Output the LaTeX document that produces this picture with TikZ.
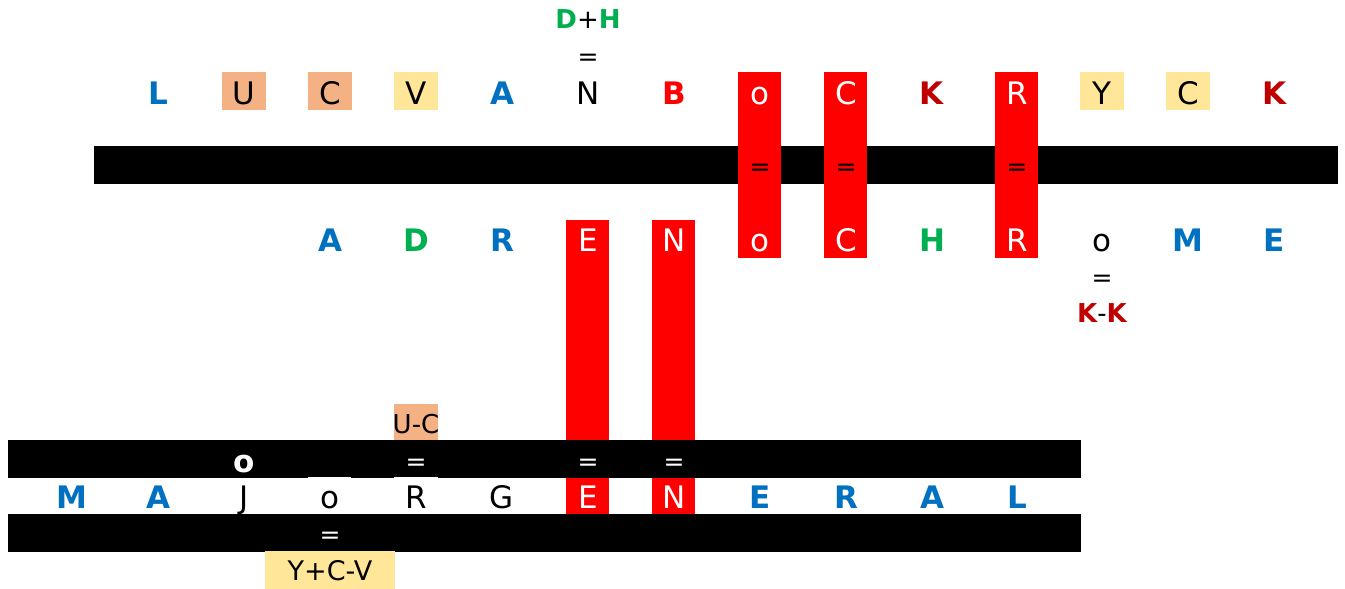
\documentclass[tikz,border=0pt]{standalone}
\usepackage{fontspec}
\setmainfont{DejaVu Sans}
\definecolor{cblue}{HTML}{0070C0}
\definecolor{cgreen}{HTML}{00B050}
\definecolor{cred}{HTML}{FF0000}
\definecolor{cdred}{HTML}{C00000}
\definecolor{corange}{HTML}{F4B183}
\definecolor{cyellow}{HTML}{FFE699}
\begin{document}
\begin{tikzpicture}[x=1pt,y=-1pt,
  ltr/.style={anchor=base,inner sep=0pt,font=\fontsize{31}{31}\selectfont},
  bld/.style={anchor=base,inner sep=0pt,font=\fontsize{31}{31}\selectfont\bfseries},
  bl/.style={bld,text=cblue},
  gr/.style={bld,text=cgreen},
  rd/.style={bld,text=cred},
  dr/.style={bld,text=cdred},
  wh/.style={ltr,text=white},
  bk/.style={ltr,text=black},
  sm/.style={anchor=base,inner sep=0pt,font=\fontsize{26}{26}\selectfont},
  eqb/.style={sm,font=\fontsize{25}{25}\selectfont,text=black},
  eqw/.style={sm,font=\fontsize{25}{25}\selectfont,text=white},
  barfill/.style={fill=black},
  redfill/.style={fill=cred},
  orfill/.style={fill=corange},
  yefill/.style={fill=cyellow}]
\useasboundingbox (0,0) rectangle (1345,589);
% top black bar
\fill[barfill] (94,146) rectangle (1338,184);
% top red columns
\fill[redfill] (738,72) rectangle (781,258);
\fill[redfill] (824,72) rectangle (867,258);
\fill[redfill] (995,72) rectangle (1038,258);
% coloured boxes top row
\fill[orfill] (222,72) rectangle (266,110);
\fill[orfill] (308,72) rectangle (352,110);
\fill[yefill] (394,72) rectangle (438,110);
\fill[yefill] (1080,72) rectangle (1124,110);
\fill[yefill] (1166,72) rectangle (1210,110);
% lower red columns
\fill[redfill] (566,220) rectangle (609,514);
\fill[redfill] (652,220) rectangle (695,514);
% bottom black bars
\fill[barfill] (8,440) rectangle (1081,478);
\fill[barfill] (8,514) rectangle (1081,552);
\fill[white] (308,476.6) rectangle (351,478.2);
\fill[white] (394,476.6) rectangle (438,478.2);
% boxes lower
\fill[orfill] (394,404) rectangle (438,440);
\fill[yefill] (265,551) rectangle (395,589);

% top row
\node[bl] (t1) at (158,104) {L};
\node[bk] (t2) at (244,104) {U};
\node[bk] (t3) at (330,104) {C};
\node[bk] (t4) at (416,104) {V};
\node[bl] (t5) at (502,104) {A};
\node[bk] (t6) at (588,104) {N};
\node[rd] (t7) at (674,104) {B};
\node[wh] (t8) at (760,104) {o};
\node[wh] (t9) at (846,104) {C};
\node[dr] (t10) at (932,104) {K};
\node[wh] (t11) at (1017,104) {R};
\node[bk] (t12) at (1102,104) {Y};
\node[bk] (t13) at (1188,104) {C};
\node[dr] (t14) at (1274,104) {K};
% above N
\node[sm,font=\fontsize{26}{26}\selectfont\bfseries] (dh) at (588,28) {\textcolor{cgreen}{D}\textcolor{black}{\mdseries +}\textcolor{cgreen}{H}};
\node[eqb] (eq0) at (588,65) {=};
% equals in top bar
\node[eqb] (eq1) at (760,175) {=};
\node[eqb] (eq2) at (846,175) {=};
\node[eqb] (eq3) at (1017,175) {=};

% second row
\node[bl] (s3) at (330,251) {A};
\node[gr] (s4) at (416,251) {D};
\node[bl] (s5) at (502,251) {R};
\node[wh] (s6) at (588,251) {E};
\node[wh] (s7) at (674,251) {N};
\node[wh] (s8) at (760,251) {o};
\node[wh] (s9) at (846,251) {C};
\node[gr] (s10) at (932,251) {H};
\node[wh] (s11) at (1017,251) {R};
\node[bk] (s12) at (1102,251) {o};
\node[bl] (s13) at (1188,251) {M};
\node[bl] (s14) at (1274,251) {E};
\node[eqb] (eq4) at (1102,286) {=};
\node[sm,font=\fontsize{26}{26}\selectfont\bfseries] (kk) at (1102,322) {\textcolor{cdred}{K}\textcolor{black}{\mdseries -}\textcolor{cdred}{K}};

% bottom area
\node[sm] (uc) at (416,433) {U-C};
\node[bld,text=white] (ob) at (244,472) {o};
\node[eqw] (eq5) at (416,470) {=};
\node[eqw] (eq6) at (588,470) {=};
\node[eqw] (eq7) at (674,470) {=};

\node[bl] (b0) at (72,508) {M};
\node[bl] (b1) at (158,508) {A};
\node[bk] (b2) at (244,508) {J};
\node[bk] (b3) at (330,508) {o};
\node[bk] (b4) at (416,508) {R};
\node[bk] (b5) at (502,508) {G};
\node[wh] (b6) at (588,508) {E};
\node[wh] (b7) at (674,508) {N};
\node[bl] (b8) at (760,508) {E};
\node[bl] (b9) at (846,508) {R};
\node[bl] (b10) at (932,508) {A};
\node[bl] (b11) at (1017,508) {L};

\node[eqw] (eq8) at (330,543) {=};
\node[anchor=base,inner sep=0pt,font=\fontsize{27}{27}\selectfont] (ycv) at (330,580) {Y+C-V};
\end{tikzpicture}
\end{document}
